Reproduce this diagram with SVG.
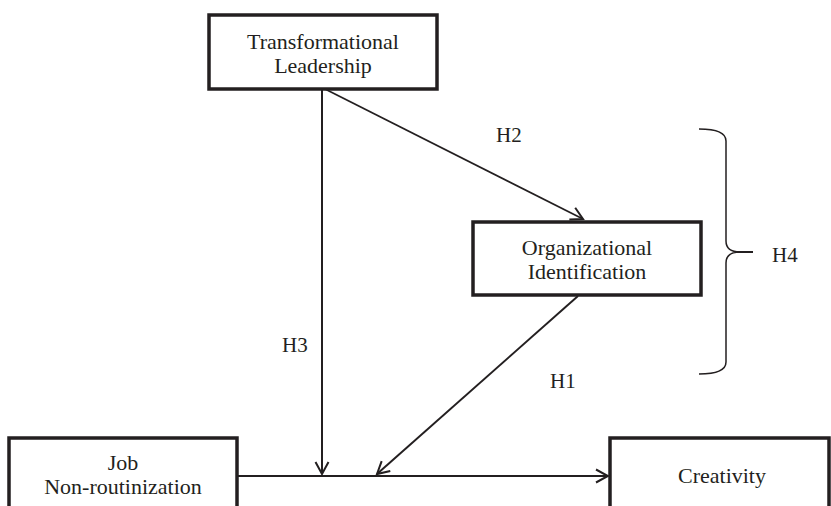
<svg xmlns="http://www.w3.org/2000/svg" width="831" height="506" viewBox="0 0 831 506">
<defs>
<style>
.box{fill:#fff;stroke:#231f20;stroke-width:3.5}
.t{font-family:"Liberation Serif","Times New Roman",serif;font-size:22px;fill:#231f20;text-anchor:middle}
.lbl{font-family:"Liberation Serif","Times New Roman",serif;font-size:21px;fill:#231f20}
.ln{fill:none;stroke:#231f20;stroke-width:2}
</style>
<marker id="arr" viewBox="-14 -8 16 16" refX="0" refY="0" markerWidth="16" markerHeight="16" markerUnits="userSpaceOnUse" orient="auto">
<path d="M-12,-6.5 L0,0 L-12,6.5" fill="none" stroke="#231f20" stroke-width="2"/>
</marker>
</defs>
<rect width="831" height="506" fill="#fff"/>
<g id="connectors">
<line class="ln" x1="237" y1="476" x2="608" y2="476" marker-end="url(#arr)"/>
<line class="ln" x1="322" y1="89" x2="322" y2="474" marker-end="url(#arr)"/>
<line class="ln" x1="325" y1="89" x2="583" y2="219" marker-end="url(#arr)" style="stroke-width:1.7"/>
<line class="ln" x1="578" y1="296" x2="377" y2="474" marker-end="url(#arr)"/>
</g>
<g id="tl">
<rect class="box" x="209" y="15" width="228" height="74"/>
<text class="t" x="323" y="49">Transformational</text>
<text class="t" x="323" y="73">Leadership</text>
</g>
<g id="oi">
<rect class="box" x="473" y="222" width="228" height="73"/>
<text class="t" x="587" y="255">Organizational</text>
<text class="t" x="587" y="279">Identification</text>
</g>
<g id="job">
<rect class="box" x="9" y="438" width="228" height="90"/>
<text class="t" x="123" y="470">Job</text>
<text class="t" x="123" y="494">Non-routinization</text>
</g>
<g id="creativity">
<rect class="box" x="610" y="438" width="219" height="90"/>
<text class="t" x="722" y="483">Creativity</text>
</g>
<g id="labels">
<text class="lbl" x="496" y="142">H2</text>
<text class="lbl" x="282" y="352">H3</text>
<text class="lbl" x="550" y="388">H1</text>
<text class="lbl" x="772" y="262">H4</text>
</g>
<g id="brace">
<path class="ln" style="stroke-width:1.5" d="M699,129 Q726,129 726,141 L726,241 Q726,252 740,252 Q726,252 726,263 L726,362 Q726,374 699,374"/>
<line class="ln" x1="736" y1="252" x2="753" y2="252"/>
</g>
</svg>
